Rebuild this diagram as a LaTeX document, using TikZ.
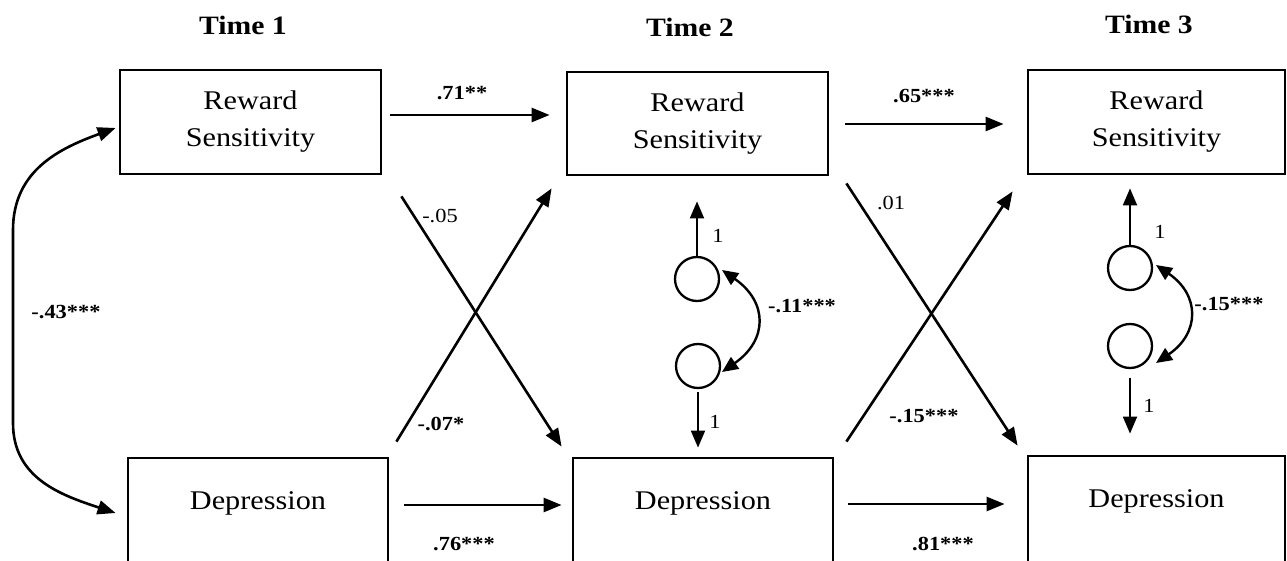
\documentclass[tikz,border=0pt]{standalone}
\usepackage{fontspec}
\setmainfont{Liberation Serif}[FakeStretch=1.12]
\usetikzlibrary{arrows.meta,calc}
\newcommand\bxfont{\fontsize{27}{37}\selectfont}
\newcommand\tmfont{\fontsize{26.5}{30}\selectfont\bfseries}
\newcommand\cffont{\fontsize{20}{24}\selectfont}
\begin{document}
\begin{tikzpicture}[x=1pt,y=-1pt,
  bx/.style={draw, line width=2.8pt, inner sep=0pt, font=\bxfont, align=center},
  lat/.style={draw, circle, line width=2.3pt, inner sep=0pt, minimum size=44pt},
  arr/.style={-{Triangle[length=18pt,width=14pt]}, line width=2.6pt},
  dblarr/.style={{Triangle[length=18pt,width=14pt]}-{Triangle[length=18pt,width=14pt]}, line width=2.6pt},
  ld/.style={-{Triangle[length=17pt,width=14pt]}, line width=1.9pt},
  cov/.style={{Triangle[length=16pt,width=14pt]}-{Triangle[length=16pt,width=14pt]}, line width=2.4pt},
  tm/.style={font=\tmfont, anchor=base, inner sep=0pt},
  cf/.style={font=\cffont, anchor=base, inner sep=0pt},
  cfb/.style={font=\cffont\bfseries, anchor=base, inner sep=0pt}]
\useasboundingbox (0,0) rectangle (1287,561);
\clip (0,0) rectangle (1287,561);

% time labels
\node[tm] (tA) at (243,35) {Time 1};
\node[tm] (tB) at (690,37) {Time 2};
\node[tm] (tC) at (1149,34) {Time 3};

% boxes
\node[bx, minimum width=261pt, minimum height=104pt] (r1) at (250.5,122) {Reward\\Sensitivity};
\node[bx, minimum width=261pt, minimum height=103pt] (r2) at (697.5,123.5) {Reward\\Sensitivity};
\node[bx, minimum width=257pt, minimum height=104pt] (r3) at (1156.5,122) {Reward\\Sensitivity};
\node[bx, minimum width=260pt, minimum height=122pt, text height=20pt, text depth=40pt] (d1) at (258,519) {Depression};
\node[bx, minimum width=260pt, minimum height=122pt, text height=20pt, text depth=40pt] (d2) at (703,519) {Depression};
\node[bx, minimum width=257pt, minimum height=122pt, text height=20pt, text depth=40pt] (d3) at (1156.5,517) {Depression};

% latent residual circles
\node[lat] (u2) at (697,279) {};
\node[lat] (l2) at (698,366) {};
\node[lat] (u3) at (1130,268) {};
\node[lat] (l3) at (1130,346) {};

% autoregressive paths
\draw[arr] ($(r1.east)+(8,-7)$) -- ($(r2.west)+(-16,-8.5)$);
\draw[arr] ($(r2.east)+(16,0.5)$) -- ($(r3.west)+(-23,2)$);
\draw[arr] ($(d1.east)+(15,-14)$) -- ($(d2.west)+(-10,-14)$);
\draw[arr] ($(d2.east)+(14,-15)$) -- ($(d3.west)+(-22,-13)$);

% cross-lagged paths
\draw[arr] ($(r1.south east)+(19,21)$) -- ($(d2.north west)+(-10,-10)$);
\draw[arr] ($(d1.north east)+(7,-15)$) -- ($(r2.south west)+(-14,12)$);
\draw[arr] ($(r2.south east)+(17,7)$) -- ($(d3.north west)+(-9,-9)$);
\draw[arr] ($(d2.north east)+(12,-15)$) -- ($(r3.south west)+(-14,16)$);

% loadings
\draw[ld] (u2.north) -- ($(u2.north |- r2.south)+(0,25)$);
\draw[ld] ($(l2.south)+(0,3)$) -- ($(l2.south |- d2.north)+(0,-9)$);
\draw[ld] (u3.north) -- ($(u3.north |- r3.south)+(0,13)$);
\draw[ld] ($(l3.south)+(0,9)$) -- ($(l3.south |- d3.north)+(0,-21)$);

% residual covariances
\draw[cov] ($(u2)+(25,-9)$) .. controls +(46,32) and +(46,-32) .. ($(l2)+(24,6)$);
\draw[cov] ($(u3)+(26,-3)$) .. controls +(44,30) and +(44,-30) .. ($(l3)+(26,17)$);

% time 1 covariance
\coordinate (lc1) at (13,230);
\coordinate (lc2) at (13,423);
\draw[dblarr] ($(r1.west)+(-3,6)$) .. controls +(-55,20) and +(0,-60) .. (lc1) -- (lc2) .. controls +(0,55) and +(-55,-18) .. ($(d1.west)+(-11,-6)$);

% coefficients
\node[cfb] (c71) at (462,100) {.71**};
\node[cfb] (c65) at (924,103) {.65***};
\node[cfb] (c43) at (66,318) {-.43***};
\node[cf]  (c05) at (440,223) {-.05};
\node[cfb] (c07) at (441,430) {-.07*};
\node[cfb] (c76) at (464,550) {.76***};
\node[cf]  (c01) at (891,210) {.01};
\node[cfb] (c15a) at (924,422) {-.15***};
\node[cfb] (c81) at (943,550) {.81***};
\node[cfb] (c11) at (802,312) {-.11***};
\node[cfb] (c15b) at (1229,310) {-.15***};
\node[cf] (o1) at (718,243) {1};
\node[cf] (o2) at (715,428) {1};
\node[cf] (o3) at (1160,239) {1};
\node[cf] (o4) at (1149,412) {1};
\end{tikzpicture}
\end{document}
